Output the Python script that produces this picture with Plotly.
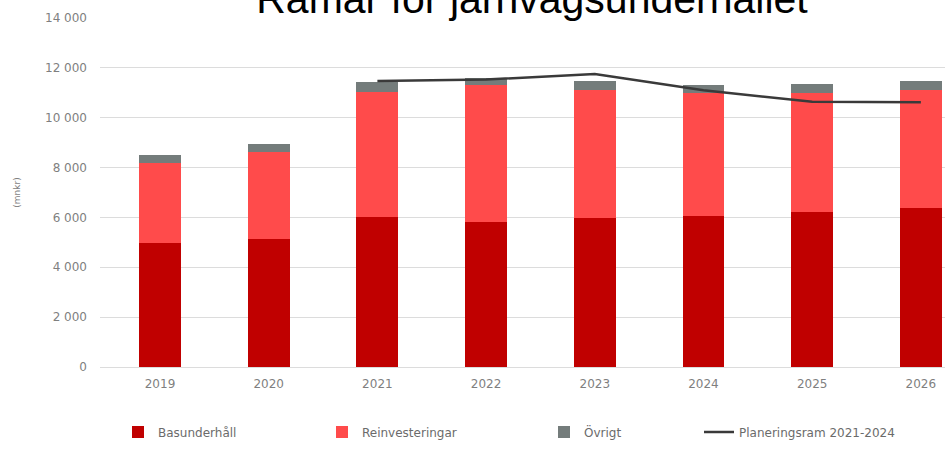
import plotly.graph_objects as go

years = ["2019", "2020", "2021", "2022", "2023", "2024", "2025", "2026"]
basunderhall = [4960, 5150, 6030, 5830, 5960, 6040, 6200, 6370]
reinvesteringar = [3230, 3480, 5010, 5480, 5150, 4960, 4780, 4740]
ovrigt = [310, 300, 380, 280, 370, 310, 370, 360]
plan_years = ["2021", "2022", "2023", "2024", "2025", "2026"]
planeringsram = [11470, 11530, 11750, 11100, 10640, 10620]
y_ticks = [0, 2000, 4000, 6000, 8000, 10000, 12000, 14000]

tick_font = dict(family="DejaVu Sans", size=12, color="#7f7f7f")
leg_font = dict(family="DejaVu Sans", size=12, color="#6b6b6b")

fig = go.Figure()
fig.add_trace(go.Bar(x=years, y=basunderhall, name="Basunderhåll", legend="legend",
                     marker=dict(color="#C00000", line=dict(width=0))))
fig.add_trace(go.Bar(x=years, y=reinvesteringar, name="Reinvesteringar", legend="legend2",
                     marker=dict(color="#FF4B4B", line=dict(width=0))))
fig.add_trace(go.Bar(x=years, y=ovrigt, name="Övrigt", legend="legend3",
                     marker=dict(color="#747C7B", line=dict(width=0))))
fig.add_trace(go.Scatter(x=plan_years, y=planeringsram, name="Planeringsram 2021-2024",
                         legend="legend4", mode="lines",
                         line=dict(color="#3a3a3a", width=2.5)))

def leg(px):
    return dict(orientation="h", x=(px - 100) / 845, xanchor="left",
                y=(367 - 432) / 349, yanchor="middle", font=leg_font,
                bgcolor="rgba(0,0,0,0)")

fig.update_layout(
    width=945, height=462,
    barmode="stack", bargap=0.614,
    separators=", ",
    plot_bgcolor="white", paper_bgcolor="white",
    margin=dict(l=100, r=0, t=18, b=95),
    title=dict(text="Ramar för järnvägsunderhållet", x=532 / 945, xanchor="center",
               xref="container", yref="container", y=(462 - 13) / 462, yanchor="bottom",
               font=dict(family="Liberation Sans", size=41, color="black")),
    legend=leg(118),
    legend2=leg(322),
    legend3=leg(544),
    legend4=leg(699),
    xaxis=dict(type="category", range=[-0.552, 7.222], showgrid=False, showline=False,
               ticks="", tickfont=tick_font, ticklabelstandoff=8),
    yaxis=dict(range=[0, 14000], tickvals=y_ticks, tickformat=",d", showgrid=True,
               gridcolor="#dcdcdc", gridwidth=1, zeroline=True, zerolinecolor="#dcdcdc",
               zerolinewidth=1, showline=False, ticks="", tickfont=tick_font,
               ticklabelstandoff=12,
               title=dict(text="(mnkr)", font=dict(family="DejaVu Sans", size=9, color="#7f7f7f"),
                          standoff=22)),
    showlegend=True,
)

fig.write_html("out.html")
